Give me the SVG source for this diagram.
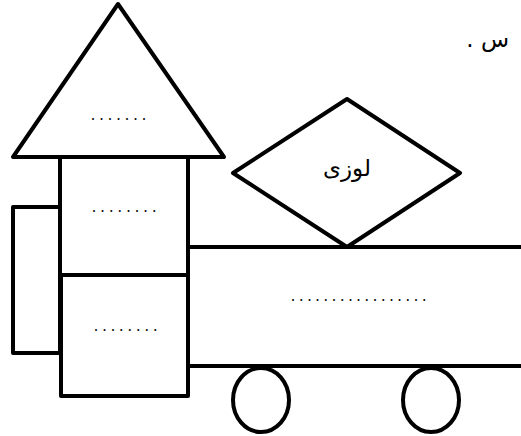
<svg xmlns="http://www.w3.org/2000/svg" width="521" height="436" viewBox="0 0 521 436">
<style>
.s{fill:#fff;stroke:#000;stroke-width:4;stroke-linejoin:round}
.l{fill:none;stroke:#000;stroke-width:4}
.d{font-family:"Liberation Serif",serif;font-size:16px;fill:#000}
.a{font-family:"DejaVu Sans",sans-serif;fill:#000}
</style>
<rect width="521" height="436" fill="#fff"/>
<g id="side-box"><rect class="s" x="13" y="207" width="47" height="146"/></g>
<g id="wagon">
<line class="l" x1="186" y1="247" x2="523" y2="247"/>
<line class="l" x1="186" y1="366" x2="523" y2="366"/>
<text class="d" x="291" y="300.5" letter-spacing="4.2">.................</text>
</g>
<g id="tower-upper"><rect class="s" x="60" y="157" width="128" height="118"/>
<text class="d" x="92" y="211.5" letter-spacing="4.6">........</text></g>
<g id="tower-lower"><rect class="s" x="61" y="275" width="127" height="121"/>
<text class="d" x="94" y="330.5" letter-spacing="4.45">........</text></g>
<g id="roof"><polygon class="s" points="118,4 224,157 13,157"/>
<text class="d" x="91" y="119.5" letter-spacing="4.5">.......</text></g>
<g id="diamond"><polygon class="s" points="347,99 460,173 347,247 233,173"/>
<text class="a" x="347" y="176" font-size="23" text-anchor="middle">لوزی</text></g>
<g id="wheel-1"><ellipse class="s" cx="261" cy="400" rx="28" ry="32"/></g>
<g id="wheel-2"><ellipse class="s" cx="431" cy="400" rx="28" ry="32"/></g>
<g id="caption"><text class="a" x="509" y="47" font-size="23" direction="rtl" unicode-bidi="embed" text-anchor="start">س .</text></g>
<g id="connectors"/>
</svg>
